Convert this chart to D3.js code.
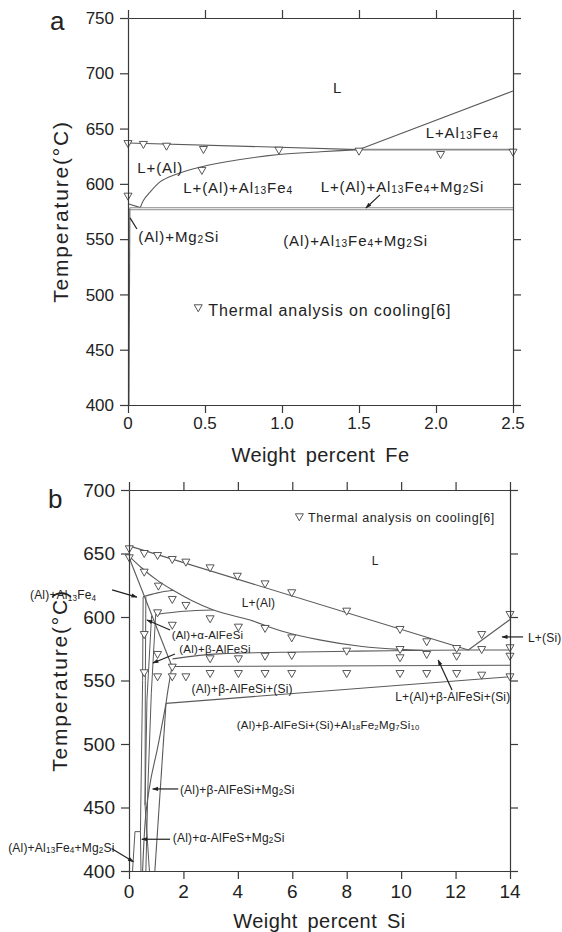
<!DOCTYPE html>
<html>
<head>
<meta charset="utf-8">
<script src="https://cdn.jsdelivr.net/npm/d3@7"></script>
<style>
  body { margin: 0; background: #fff; }
  text { font-family: "Liberation Sans", Arial, sans-serif; fill: #222; }
</style>
</head>
<body>
<svg id="chart" width="562" height="932"></svg>
<script>
// ---------- Panel a: Al-Mg2Si-Fe section, weight percent Fe ----------
const feTicks = [0, 0.5, 1.0, 1.5, 2.0, 2.5];
const feTickText = ["0", "0.5", "1.0", "1.5", "2.0", "2.5"];
const tempTicksA = [400, 450, 500, 550, 600, 650, 700, 750];

// phase boundaries [wt% Fe, °C]
const feLiquidusAl = [[0, 637], [1.5, 631]];
const feLiquidusAl13Fe4 = [[1.5, 631], [2.5, 684]];
const feInvariant631 = [[1.5, 631], [2.5, 631]];
const feAlAl13Fe4 = [[0.08, 578.5], [0.1, 585], [0.14, 592], [0.21, 602], [0.3, 608],
                     [0.42, 613.5], [0.64, 620], [0.98, 626.5], [1.25, 629], [1.5, 631]];
const feSolidusStub = [[0, 582], [0.08, 578.5]];
const feEutecticUpper = [[0.01, 578.4], [2.5, 578.4]];
const feEutecticLower = [[0.01, 576.6], [2.5, 576.6]];
const feSolvus = [[0.012, 578], [0.006, 400]];

// thermal analysis on cooling [wt% Fe, °C]
const feThermal = [[0, 636], [0.1, 635.2], [0.25, 633.6], [0.49, 630.6], [0.98, 630],
                   [0.48, 611.7], [0, 588.4], [1.5, 629.1], [2.03, 626.1], [2.5, 628.2]];

// ---------- Panel b: weight percent Si ----------
const siTicks = [0, 2, 4, 6, 8, 10, 12, 14];
const tempTicksB = [400, 450, 500, 550, 600, 650, 700];

const siLiquidus = [[0, 656], [12.47, 574]];
const siLiquidusSi = [[12.47, 574], [14, 598]];
const siAlLower = [[0, 648], [0.45, 639], [1.03, 629], [1.62, 621], [2.3, 613], [3.1, 605.5],
                   [4.45, 597.6], [5.6, 589], [7.0, 582], [8.5, 577], [9.96, 574.5], [10.8, 573.8]];
const siSolidus = [[0, 647], [1.58, 561]];
const siAl13Fe4Top = [[0.52, 616], [1.05, 619], [1.62, 621]];
const siAlphaTop = [[0.98, 602], [2.0, 604.5], [3.1, 605.5]];
const siEutectic = [[1.6, 567], [3.3, 571], [8, 573], [12.47, 574], [14, 574]];
const siMiddle = [[1.6, 561], [14, 562]];
const siLower = [[1.36, 532], [14, 553]];
const siLink = [[1.58, 561], [1.45, 545], [1.36, 532]];
const siCurveDown = [[1.36, 532], [1.05, 497], [0.8, 472], [0.62, 445], [0.5, 400]];
const siSteep = [[1.36, 532], [0.95, 400]];
const siBundle = [
  [[0.52, 616], [0.5, 550], [0.42, 431]],
  [[0.62, 616], [0.6, 550], [0.59, 452]],
  [[0.13, 400], [0.22, 431], [0.42, 431]],
  [[0.42, 431], [0.44, 400]],
  [[0.59, 452], [0.75, 400]],
  [[0.98, 602], [0.82, 540], [0.7, 470], [0.62, 400]],
  [[0.83, 601], [0.66, 535], [0.59, 452]]
];

const siThermal = [
  [0.01, 653.3], [0.56, 649.6], [1.05, 648.0], [1.59, 644.9], [2.09, 642.8], [2.98, 638.3],
  [3.98, 631.7], [5.0, 625.7], [5.98, 618.7], [8.0, 604.2], [9.96, 589.8], [12.04, 574.8],
  [12.96, 585.8], [14.0, 601.6], [0.01, 646.2],
  [0.56, 634.9], [1.08, 623.9], [1.59, 613.4], [2.09, 608.7], [2.98, 598.2], [4.02, 591.6],
  [5.0, 590.6], [5.98, 583.2], [10.94, 580.1], [1.59, 593.1], [1.05, 602.9], [0.56, 585.8],
  [9.96, 574.0], [12.96, 574.0], [14.0, 575.4],
  [1.05, 570.1], [1.59, 560.1], [2.98, 566.7], [4.02, 566.7], [5.0, 568.7], [5.98, 569.3],
  [8.0, 572.7], [9.96, 567.5], [10.94, 570.1], [12.04, 568.7], [14.0, 568.7],
  [0.56, 555.7], [1.05, 552.5], [1.59, 552.5], [2.09, 552.5], [2.98, 555.1], [4.02, 555.1],
  [5.0, 555.1], [5.98, 555.1], [8.0, 555.1], [9.96, 555.1], [10.94, 555.1], [12.04, 555.1],
  [12.96, 553.8], [14.0, 552.5]
];

// region labels (text with _{} subscripts)
const labelsA = [
  { t: "L", at: [1.331, 682.2] },
  { t: "L+Al_{13}Fe_{4}", at: [1.933, 641.5] },
  { t: "L+(Al)", at: [0.06, 609.6] },
  { t: "L+(Al)+Al_{13}Fe_{4}", at: [0.359, 592.0] },
  { t: "L+(Al)+Al_{13}Fe_{4}+Mg_{2}Si", at: [1.251, 592.9] },
  { t: "(Al)+Mg_{2}Si", at: [0.067, 547.7] },
  { t: "(Al)+Al_{13}Fe_{4}+Mg_{2}Si", at: [1.008, 543.9] },
  { t: "Thermal analysis on cooling[6]", at: [0.521, 480.6] }
];
const labelsB = [
  { t: "Thermal analysis on cooling[6]", at: [6.58, 675] },
  { t: "L", at: [8.92, 640.9] },
  { t: "L+(Al)", at: [4.14, 608.1] },
  { t: "(Al)+Al_{13}Fe_{4}", at: [-3.64, 613.9] },
  { t: "(Al)+α-AlFeSi", at: [1.57, 582.6] },
  { t: "(Al)+β-AlFeSi", at: [1.85, 572.0] },
  { t: "(Al)+β-AlFeSi+(Si)", at: [2.30, 539.9] },
  { t: "L+(Al)+β-AlFeSi+(Si)", at: [9.78, 534.1] },
  { t: "L+(Si)", at: [14.66, 580.6] },
  { t: "(Al)+β-AlFeSi+(Si)+Al_{18}Fe_{2}Mg_{7}Si_{10}", at: [3.96, 511.8], small: true },
  { t: "(Al)+β-AlFeSi+Mg_{2}Si", at: [1.87, 460.6] },
  { t: "(Al)+α-AlFeS+Mg_{2}Si", at: [1.61, 422.8] },
  { t: "(Al)+Al_{13}Fe_{4}+Mg_{2}Si", at: [-4.44, 414.9] }
];
// leader lines [from, to]; arrowhead at "to"
const leadersA = [
  { from: [1.636, 590], to: [1.545, 578.2], head: true },
  { from: [0.058, 559.2], to: [0.013, 569.2], head: false }
];
const leadersB = [
  { from: [-0.62, 621.3], to: [0.29, 615.7] },
  { from: [1.51, 589.8], to: [0.66, 597.6] },
  { from: [1.69, 570.9], to: [0.88, 563.8] },
  { from: [11.87, 542.5], to: [11.36, 566.1] },
  { from: [14.48, 584.3], to: [13.71, 584.3] },
  { from: [1.81, 464.6], to: [0.87, 464.6] },
  { from: [1.51, 425], to: [0.47, 425] },
  { from: [-0.64, 417.8], to: [0.16, 407.3] }
];

// ---------- drawing ----------
const svg = d3.select("#chart");
const LINE = "#5a5a5a", AXIS = "#3a3a3a";

svg.append("defs").append("marker")
  .attr("id", "head").attr("viewBox", "0 0 10 10").attr("refX", 9).attr("refY", 5)
  .attr("markerWidth", 7).attr("markerHeight", 5).attr("orient", "auto")
  .append("path").attr("d", "M0,1.5L10,5L0,8.5Z").attr("fill", "#222");

function richText(g, str, x, y, size, opts = {}) {
  const t = g.append("text").attr("x", x).attr("y", y).attr("font-size", size)
    .attr("letter-spacing", opts.ls || 0);
  if (opts.anchor) t.attr("text-anchor", opts.anchor);
  let lowered = false;
  str.split(/(_\{[^}]*\})/).forEach(p => {
    if (!p) return;
    const m = p.match(/^_\{(.*)\}$/);
    if (m) {
      const s = t.append("tspan").attr("font-size", size * 0.68).text(m[1]);
      if (!lowered) s.attr("dy", size * 0.1);
      lowered = true;
    } else {
      const s = t.append("tspan").text(p);
      if (lowered) s.attr("dy", -size * 0.1);
      lowered = false;
    }
  });
  return t;
}

function triangle(g, x, y, w, h) {
  const p = d3.path();
  p.moveTo(x - w / 2, y - h / 2); p.lineTo(x + w / 2, y - h / 2); p.lineTo(x, y + h / 2); p.closePath();
  g.append("path").attr("d", p.toString()).attr("fill", "#fff").attr("stroke", "#444").attr("stroke-width", 0.9);
}

function frame(g, x, y, xt, xtText, yt, opt) {
  const [x0, x1] = x.range(), [y0, y1] = y.range();
  const style = a => a.call(s => s.selectAll("path,line").attr("stroke", AXIS).attr("stroke-width", 1.2))
                      .call(s => s.selectAll("text").remove());
  g.append("g").attr("transform", `translate(0,${y0})`).call(d3.axisBottom(x).tickValues(xt).tickSize(8).tickSizeOuter(0)).call(style);
  g.append("g").attr("transform", `translate(0,${y1})`).call(d3.axisTop(x).tickValues(xt).tickSize(8).tickSizeOuter(0)).call(style);
  g.append("g").attr("transform", `translate(${x0},0)`).call(d3.axisLeft(y).tickValues(yt).tickSize(8).tickSizeOuter(0)).call(style);
  g.append("g").attr("transform", `translate(${x1},0)`).call(d3.axisRight(y).tickValues(yt).tickSize(8).tickSizeOuter(0)).call(style);
  // tick labels
  xt.forEach((v, i) => g.append("text").attr("x", x(v)).attr("y", y0 + opt.xLabelDy)
    .attr("text-anchor", "middle").attr("font-size", opt.tickSize).text(xtText[i]));
  yt.forEach(v => g.append("text").attr("x", x0 - 14).attr("y", y(v)).attr("dy", "0.36em")
    .attr("text-anchor", "end").attr("font-size", opt.tickSize).text(v));
  g.append("text").attr("x", (x0 + x1) / 2).attr("y", opt.titleY).attr("text-anchor", "middle")
    .attr("font-size", 20).attr("word-spacing", 4).attr("letter-spacing", 0.4).text(opt.xTitle);
  g.append("text").attr("transform", `translate(${opt.yTitleX},${(y0 + y1) / 2}) rotate(-90)`)
    .attr("text-anchor", "middle").attr("font-size", 21).attr("letter-spacing", 1.8).text("Temperature(°C)");
  g.append("text").attr("x", opt.tagX).attr("y", opt.tagY).attr("font-size", 26).text(opt.tag);
}

function drawLine(g, pts, x, y, curve, w, color) {
  const ln = d3.line().x(d => x(d[0])).y(d => y(d[1])).curve(curve || d3.curveLinear);
  g.append("path").attr("d", ln(pts)).attr("fill", "none")
    .attr("stroke", color || LINE).attr("stroke-width", w || 1.1);
}

function leader(g, l, x, y) {
  g.append("line").attr("x1", x(l.from[0])).attr("y1", y(l.from[1]))
    .attr("x2", x(l.to[0])).attr("y2", y(l.to[1]))
    .attr("stroke", "#222").attr("stroke-width", 1.2)
    .attr("marker-end", l.head === false ? null : "url(#head)");
}

// ---- panel a ----
const xA = d3.scaleLinear().domain([0, 2.5]).range([128, 513]);
const yA = d3.scaleLinear().domain([400, 750]).range([405, 18]);
const gA = svg.append("g");

drawLine(gA, feLiquidusAl, xA, yA);
drawLine(gA, feLiquidusAl13Fe4, xA, yA);
drawLine(gA, feInvariant631, xA, yA, null, 1.8, "#8a8a8a");
drawLine(gA, feAlAl13Fe4, xA, yA, d3.curveCatmullRom);
drawLine(gA, feSolidusStub, xA, yA);
drawLine(gA, feEutecticUpper, xA, yA, null, 1, "#8a8a8a");
drawLine(gA, feEutecticLower, xA, yA, null, 1, "#8a8a8a");
drawLine(gA, feSolvus, xA, yA, null, 1.1);
feThermal.forEach(d => triangle(gA, xA(d[0]), yA(d[1]), 8, 7));
frame(gA, xA, yA, feTicks, feTickText, tempTicksA, {
  tickSize: 17, xLabelDy: 24, titleY: 462, xTitle: "Weight percent Fe",
  yTitleX: 68, tag: "a", tagX: 50, tagY: 30
});
labelsA.forEach((l, i) => richText(gA, l.t, xA(l.at[0]), yA(l.at[1]), i === 7 ? 16 : 15, { ls: 0.9 }));
triangle(gA, xA(0.456), yA(487.5), 8, 7);
leadersA.forEach(l => leader(gA, l, xA, yA));

// ---- panel b ----
const xB = d3.scaleLinear().domain([0, 14]).range([129, 510]);
const yB = d3.scaleLinear().domain([400, 700]).range([871, 490]);
const gB = svg.append("g");

drawLine(gB, siLiquidus, xB, yB);
drawLine(gB, siLiquidusSi, xB, yB);
drawLine(gB, siAlLower, xB, yB, d3.curveMonotoneX);
drawLine(gB, siSolidus, xB, yB);
drawLine(gB, siAl13Fe4Top, xB, yB, d3.curveMonotoneX);
drawLine(gB, siAlphaTop, xB, yB, d3.curveMonotoneX);
drawLine(gB, siEutectic, xB, yB, d3.curveMonotoneX);
drawLine(gB, siMiddle, xB, yB);
drawLine(gB, siLower, xB, yB);
drawLine(gB, siLink, xB, yB, d3.curveCatmullRom);
drawLine(gB, siCurveDown, xB, yB, d3.curveCatmullRom);
drawLine(gB, siSteep, xB, yB);
siBundle.forEach(b => drawLine(gB, b, xB, yB, null, 1));
siThermal.forEach(d => triangle(gB, xB(d[0]), yB(d[1]), 8, 7));
frame(gB, xB, yB, siTicks, siTicks.map(String), tempTicksB, {
  tickSize: 19, xLabelDy: 27, titleY: 928, xTitle: "Weight percent Si",
  yTitleX: 67, tag: "b", tagX: 48, tagY: 508
});
labelsB.forEach((l, i) => richText(gB, l.t, xB(l.at[0]), yB(l.at[1]),
  i === 0 ? 12.5 : (l.small ? 11.5 : (i === 4 || i === 5 ? 11.5 : 12)), { ls: i === 0 ? 0.6 : 0.2 }));
triangle(gB, xB(6.26), yB(678.5), 8, 7);
leadersB.forEach(l => leader(gB, l, xB, yB));
</script>
</body>
</html>
